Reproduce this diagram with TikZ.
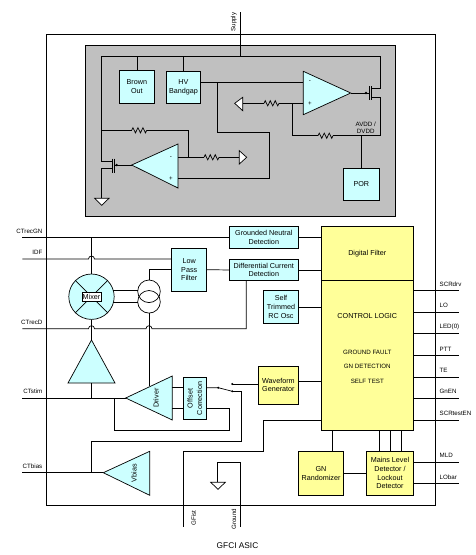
\documentclass[tikz,border=0pt]{standalone}
\usepackage{fontspec}
\setmainfont{Liberation Sans}
\usetikzlibrary{decorations.pathmorphing}

\definecolor{cyanfill}{HTML}{CCFFFF}
\definecolor{yellowfill}{HTML}{FFFF99}
\definecolor{panelgray}{HTML}{C0C0C0}

\begin{document}
\begin{tikzpicture}[
    x=1pt,y=-1pt,
    line width=0.7pt,
    block/.style={draw,inner sep=0pt,outer sep=0pt,align=center,font=\fontsize{7.2}{8.8}\selectfont},
    cblock/.style={block,fill=cyanfill},
    yblock/.style={block,fill=yellowfill},
    pinlab/.style={inner sep=0pt,font=\fontsize{6.2}{7}\selectfont},
    trilab/.style={inner sep=0pt,rotate=90,font=\fontsize{7.2}{8.8}\selectfont},
    logiclab/.style={inner sep=0pt,font=\fontsize{7.2}{8.8}\selectfont},
    tri/.style={draw,fill=cyanfill,line join=miter},
    gndtri/.style={draw,fill=white},
    rzig/.style={decorate,decoration={zigzag,amplitude=2.6,segment length=5}},
    hopdot/.style={circle,fill,inner sep=0pt,minimum size=2.6pt},
]
\useasboundingbox (0,0) rectangle (475,555);

% frames
\node[draw,inner sep=0pt,minimum width=389.7,minimum height=470.8] (asic) at (240.85,269.9) {};
\node[draw,fill=panelgray,inner sep=0pt,minimum width=310.4,minimum height=171.7] (analog) at (240.5,130.85) {};

% blocks of the analog panel
\node[cblock,minimum width=35.7,minimum height=33] (brown) at (136.85,86.8) {Brown\\Out};
\node[cblock,minimum width=34.4,minimum height=32.3] (hv) at (183.5,87.2) {HV\\Bandgap};
\node[cblock,minimum width=36,minimum height=31.7] (por) at (361.3,184.15) {POR};

% blocks of the lower part
\node[cblock,minimum width=35,minimum height=42.7] (lpf) at (189.2,269.65) {Low\\Pass\\Filter};
\node[cblock,minimum width=69,minimum height=21.6] (gnd) at (263.8,237.5) {Grounded Neutral\\Detection};
\node[cblock,minimum width=69,minimum height=21.4] (dcd) at (263.8,270) {Differential Current\\Detection};
\node[cblock,minimum width=34.6,minimum height=32.6] (osc) at (281,307) {Self\\Trimmed\\RC Osc};
\node[cblock,minimum width=23.7,minimum height=42.4] (offs) at (194.85,398.5) {};
\node[rotate=90,align=center,inner sep=0pt,font=\fontsize{7.2}{9.5}\selectfont] (offstxt) at (offs) {Offset\\Correction};
\node[yblock,minimum width=40.2,minimum height=38] (wave) at (278.4,385) {Waveform\\Generator};
\node[yblock,minimum width=92,minimum height=54] (filt) at (367.3,253.7) {Digital Filter};
\node[yblock,minimum width=92,minimum height=149.3] (ctrl) at (367.3,355.35) {};
\node[yblock,minimum width=45.4,minimum height=44.3] (rnd) at (321,473.15) {GN\\Randomizer};
\node[yblock,minimum width=46.6,minimum height=44.3] (mains) at (390,473.15) {Mains Level\\Detector /\\Lockout\\Detector};

\node[logiclab] (logic) at (367.3,315.7) {CONTROL LOGIC};
\node[pinlab] (fault) at (367.3,352.3) {GROUND FAULT};
\node[pinlab] (gndet) at (367.3,366) {GN DETECTION};
\node[pinlab] (selft) at (367.3,381) {SELF TEST};

% top amplifier
\coordinate (ampa) at (350.7,93);
\draw[tri] (303.3,71.3) -- (303.3,114.7) -- (ampa) -- cycle;
\node[pinlab] (ampam) at (310,82) {-};
\node[pinlab] (ampap) at (310,103.3) {+};
% bottom amplifier
\coordinate (ampb) at (131.7,165);
\draw[tri] (178,144) -- (178,188) -- (ampb) -- cycle;
\node[pinlab] (ampbm) at (171,157.3) {-};
\node[pinlab] (ampbp) at (171,178.3) {+};

% supply
\coordinate (sup) at (240.3,12);
\coordinate (bus) at (240.3,56);
\node[pinlab,rotate=90] (suplab) at (233.7,22) {Supply};
\draw (sup) -- (bus);
\draw (101.3,161.3) -- (101.3,56) -- (380,56) -- (380,88.7) -- (371,88.7);
\draw (brown.north) -- (brown.north |- bus);
\draw (hv.north) -- (hv.north |- bus);

% top output transistor
\draw (ampa) -- (369,93);
\node[hopdot] (gatea) at (366,93) {};
\draw (369,86) -- (369,100);
\draw (371,86) -- (371,100);
\draw (371,97.3) -- (380,97.3) -- (380,135.7) -- (333,135.7);
\draw[rzig] (333,135.7) -- (318,135.7);
\draw (318,135.7) -- (292.3,135.7) -- (292.3,103.3);
\draw (303.3,103.3) -- (279,103.3);
\draw[rzig] (279,103.3) -- (264,103.3);
\draw (264,103.3) -- (242.7,103.3);
\draw[gndtri] (242.7,97.3) -- (242.7,110.7) -- (234.7,103.3) -- cycle;
\node[pinlab,align=center] (avdd) at (365.7,127.6) {AVDD /\\DVDD};
\draw (por.north) -- (por.north |- 0,135.7);

% bandgap reference
\draw (hv.east |- 0,82) -- (303.3,82);
\draw (217.3,82) -- (217.3,132.3) -- (269.3,132.3) -- (269.3,178.3) -- (178,178.3);

% bottom transistor and feedback
\draw (ampb) -- (114.7,165);
\node[hopdot] (gateb) at (116.7,165) {};
\draw (114.7,158.5) -- (114.7,172.5);
\draw (112.7,158.5) -- (112.7,172.5);
\draw (101.3,161.3) -- (112.7,161.3);
\draw (112.7,168.3) -- (101.3,168.3) -- (101.3,198.3);
\draw[gndtri] (94.7,198.3) -- (109,198.3) -- (101.7,205.3) -- cycle;
\draw (101.3,130.3) -- (131.7,130.3);
\draw[rzig] (131.7,130.3) -- (146.7,130.3);
\draw (146.7,130.3) -- (188.7,130.3) -- (188.7,157.3);
\draw (178,157.3) -- (204,157.3);
\draw[rzig] (204,157.3) -- (219,157.3);
\draw (219,157.3) -- (239.3,157.3);
\draw[gndtri] (239.3,150.7) -- (239.3,164) -- (246.7,157.3) -- cycle;

% pins on the right
\foreach \pinname/\pintxt/\piny in {scrdrv/SCRdrv/290.7,lo/LO/312,led/LED(0)/333.3,ptt/PTT/355.7,te/TE/377,gnen/GnEN/398.3,scrt/SCRtestEN/420}{
    \coordinate (\pinname) at (459,\piny);
    \node[pinlab,anchor=west] (lab\pinname) at (439.3,\piny-6.6) {\pintxt};
    \draw (ctrl.east |- \pinname) -- (\pinname);
}
\foreach \pinname/\pintxt/\piny in {mld/MLD/462.3,lobar/LObar/483.7}{
    \coordinate (\pinname) at (459,\piny);
    \node[pinlab,anchor=west] (lab\pinname) at (439.3,\piny-6.6) {\pintxt};
    \draw (mains.east |- \pinname) -- (\pinname);
}

% pins on the left
\foreach \pinname/\pintxt/\piny in {recgn/CTrecGN/237.7,idf/IDF/259,recd/CTrecD/328.7,stim/CTstim/398,bias/CTbias/472.7}{
    \coordinate (\pinname) at (22.3,\piny);
    \node[pinlab,anchor=east] (lab\pinname) at (42.7,\piny-6.8) {\pintxt};
}

% mixer
\node[circle,draw,fill=cyanfill,inner sep=0pt,minimum size=45.4] (mix) at (91.5,296.7) {};
\draw (mix.45) -- (mix.225);
\draw (mix.135) -- (mix.315);
\node[block,fill=white,minimum width=19.3,minimum height=9.6] (mixlab) at (mix) {Mixer};

% current transformer
\node[circle,draw,inner sep=0pt,minimum size=22.6] (ringa) at (149,291.3) {};
\node[circle,draw,inner sep=0pt,minimum size=22.6] (ringb) at (149,301.8) {};
\draw (113.2,290.7) -- (137.7,290.7);
\draw (113.2,302) -- (137.7,302);

% gain triangle below the mixer
\coordinate (gaintop) at (91.5,340);
\draw[tri] (gaintop) -- (115,383) -- (68,383) -- cycle;
\coordinate (gainout) at (91.5,383);

% driver, vbias
\coordinate (drvtip) at (125.7,398);
\draw[tri] (drvtip) -- (172.3,376) -- (172.3,420) -- cycle;
\node[trilab] (drvlab) at (156,398) {Driver};
\coordinate (vbtip) at (103.3,472.7);
\draw[tri] (vbtip) -- (149.7,451.3) -- (149.7,495.3) -- cycle;
\node[trilab] (vblab) at (134,473) {Vbias};

% left side connectors
\draw (recgn) -- (gnd.west |- recgn);
\draw (91.5,237.7) -- (mix.north);
\draw (idf) -- (88.5,259) arc[start angle=180,end angle=360,radius=3] -- (lpf.west |- idf);
\draw (ringa.north) -- (149,269.65) -- (lpf.west);
\draw (lpf.east) -- (dcd.west);
\draw (gnd.east) -- (filt.west |- gnd.east);
\draw (dcd.east) -- (filt.west |- dcd.east);
\draw (osc.east) -- (ctrl.west |- osc.east);
\draw (recd) -- (88.5,328.7) arc[start angle=180,end angle=360,radius=3] -- (146,328.7) arc[start angle=180,end angle=360,radius=3] -- (246.3,328.7) -- (246.3,280.7);
\draw (mix.south) -- (gaintop);
\draw (ringb.south) -- (149,386);
\draw (gainout) -- (91.5,398);
\draw (stim) -- (drvtip);
\draw (bias) -- (vbtip);

% driver, offset correction and switch
\draw (172.3,387.7) -- (183,387.7);
\draw (172.3,408.7) -- (183,408.7);
\coordinate (swa) at (218.3,387.7);
\coordinate (swb) at (232.3,384);
\coordinate (swc) at (232.3,391.3);
\draw (206.7,387.7) -- (swa) -- (swc);
\node[hopdot,minimum size=2.2pt] (dota) at (swa) {};
\node[hopdot,minimum size=2.2pt] (dotb) at (swb) {};
\node[hopdot,minimum size=2.2pt] (dotc) at (swc) {};
\draw (swb) -- (wave.west |- swb);
\draw (wave.east |- 0,381.7) -- (ctrl.west |- 0,381.7);
\draw (114.3,398) -- (114.3,430) -- (229.3,430) -- (229.3,408.7) -- (206.7,408.7);
\draw (swc) -- (241.7,391.3) -- (241.7,441) -- (91.5,441) -- (91.5,472.7);

% bottom connectors
\coordinate (gfist) at (183.3,526.7);
\coordinate (grnd) at (240.7,526.7);
\draw (gfist) -- (183.3,451) -- (263.7,451) -- (263.7,420) -- (ctrl.west |- 0,420);
\draw (grnd) -- (240.7,462.3) -- (217.5,462.3) -- (217.5,482.3);
\draw[gndtri] (210.7,482.3) -- (225.3,482.3) -- (218,489.3) -- cycle;
\node[pinlab,rotate=90] (gfistlab) at (193.7,518) {GFist};
\node[pinlab,rotate=90] (grndlab) at (234,519) {Ground};
\draw (332.7,430) -- (332.7,451);
\draw (379,430) -- (379,451);
\draw (390,430) -- (mains.north);
\draw (401.3,430) -- (401.3,451);
\draw (rnd.east) -- (mains.west);

\node[font=\fontsize{8.3}{10}\selectfont,inner sep=0pt] (title) at (237.5,545.3) {GFCI ASIC};
\end{tikzpicture}
\end{document}
